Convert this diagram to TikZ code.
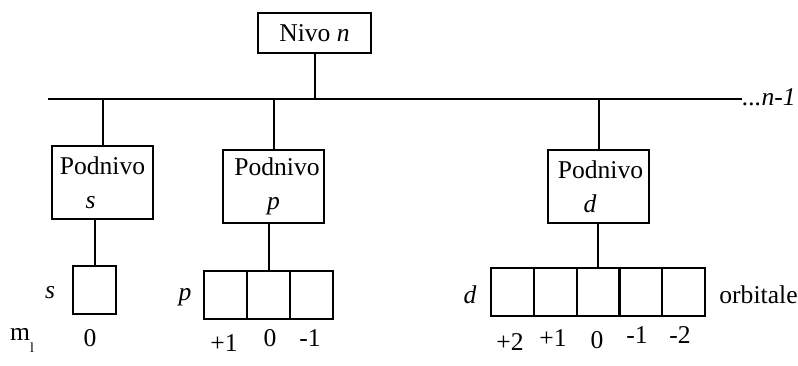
\documentclass[tikz,border=0pt]{standalone}
\usepackage{fontspec}
\setmainfont{Liberation Serif}
\usetikzlibrary{calc}

\tikzset{
  levelbox/.style={draw, line width=1pt, minimum width=56.5pt, minimum height=20pt, inner sep=0pt},
  subbox/.style={draw, line width=1pt, minimum width=50.5pt, minimum height=36.5pt, inner sep=0pt, align=center},
  orbcell/.style={draw, line width=1pt, minimum width=21.5pt, minimum height=24pt, inner sep=0pt},
  wire/.style={line width=1pt},
  lbl/.style={inner sep=0pt}
}

\begin{document}
\begin{tikzpicture}[x=0.5pt,y=-0.5pt,font=\fontsize{12.8}{17}\selectfont]
	\useasboundingbox (0,0) rectangle (798,365);
	% glavni nivo
	\node[levelbox] (nivo) at (314.5,33) {Nivo \textit{n}};
	\coordinate (busL) at (48,99);
	\node[lbl, anchor=west] (more) at (742,97) {\textit{...n-1}};
	\draw[wire] (busL) -- (more.west |- busL);
	\draw[wire] (nivo.south) -- (nivo.south |- busL);
	% podnivoi
	\node[subbox] (pods) at (102.5,182.5) {Podnivo\\\textit{s}\hspace*{12pt}};
	\node[subbox] (podp) at (273.5,186) {\hspace*{3.5pt}Podnivo\\\textit{p}};
	\node[subbox] (podd) at (598.5,186.5) {\hspace*{2pt}Podnivo\\\textit{d}\hspace*{8.5pt}};
	\foreach \b in {pods,podp,podd}
		\draw[wire] (\b.north) -- (\b.north |- busL);
	% orbitale s
	\node[orbcell] (s1) at (94.5,289.5) {};
	\draw[wire] (s1.north) -- (s1.north |- pods.south);
	% orbitale p
	\foreach \i in {1,2,3}
		\node[orbcell] (p\i) at ({204+21.5+43*(\i-1)},295) {};
	\draw[wire] (p2.north) -- (p2.north |- podp.south);
	% orbitale d
	\foreach \i in {1,...,5}
		\node[orbcell] (d\i) at ({491+21.4+42.8*(\i-1)},292) {};
	\draw[wire] (d3.north) -- (d3.north |- podd.south);
	% oznake
	\node[lbl] (ls) at (50,293) {\textit{s}};
	\node[lbl] (lp) at (185,297) {\textit{p}};
	\node[lbl] (ld) at (470,295) {\textit{d}};
	\node[lbl, anchor=west] (orb) at (719,295) {orbitale};
	\node[lbl] (ml) at (22,340) {m\raisebox{-6pt}{\fontsize{7}{8}\selectfont l}};
	\node[lbl] (s0) at (90,338) {0};
	\node[lbl] (pa) at (224,343) {+1};
	\node[lbl] (pb) at (270,338) {0};
	\node[lbl] (pc) at (310,338) {-1};
	\node[lbl] (da) at (510,342) {+2};
	\node[lbl] (db) at (553,338) {+1};
	\node[lbl] (dc) at (597,340) {0};
	\node[lbl] (dd) at (637,335) {-1};
	\node[lbl] (de) at (680,335) {-2};
\end{tikzpicture}
\end{document}
